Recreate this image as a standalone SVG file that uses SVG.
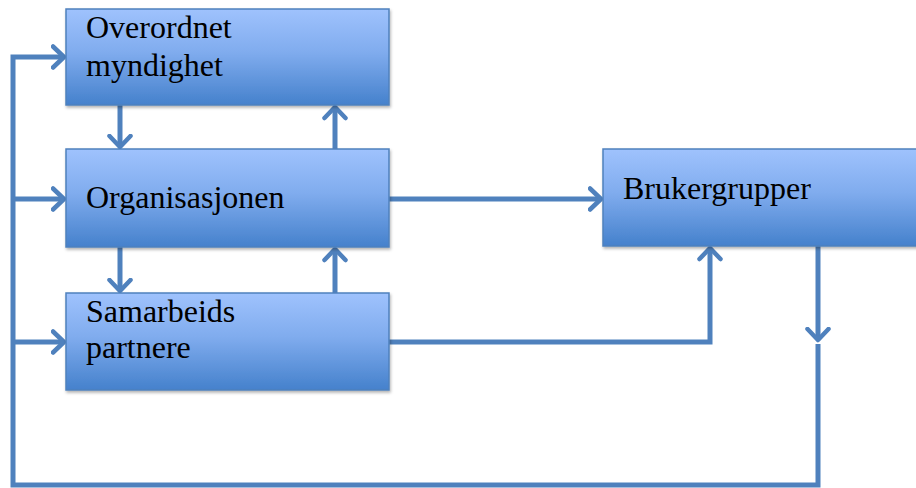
<svg xmlns="http://www.w3.org/2000/svg" width="916" height="488" viewBox="0 0 916 488">
<defs>
<linearGradient id="g" x1="0" y1="0" x2="0" y2="1">
<stop offset="0" stop-color="#9fc2fd"/>
<stop offset="0.45" stop-color="#80acee"/>
<stop offset="1" stop-color="#4581cc"/>
</linearGradient>
<filter id="sh" x="-5%" y="-5%" width="112%" height="120%">
<feDropShadow dx="1" dy="2" stdDeviation="1.5" flood-color="#000" flood-opacity="0.3"/>
</filter>
<marker id="ah" viewBox="0 0 16 26" refX="13.5" refY="13" markerWidth="16" markerHeight="26" markerUnits="userSpaceOnUse" orient="auto">
<path d="M2.5 2.5 L13.5 13 L2.5 23.5" fill="none" stroke="#4f81bd" stroke-width="4.5" stroke-linecap="round" stroke-linejoin="round"/>
</marker>
</defs>
<style>
.box{fill:url(#g);stroke:#4f81bd;stroke-width:1.5;filter:url(#sh)}
.t{font-family:"Liberation Serif","Times New Roman",serif;font-size:32px;fill:#000}
.c{fill:none;stroke:#4f81bd;stroke-width:5;stroke-linejoin:miter}
.a{marker-end:url(#ah)}
</style>
<g id="connectors">
<path class="c a" d="M120 105 V147"/>
<path class="c a" d="M335 149 V107"/>
<path class="c a" d="M120 247 V291"/>
<path class="c a" d="M335 293 V249"/>
<path class="c a" d="M389 199 H601"/>
<path class="c a" d="M389 342 H710 V248"/>
<path class="c a" d="M818 246 V340"/>
<path class="c a" d="M818 344 V485 H13 V57 H64"/>
<path class="c a" d="M13 199 H64"/>
<path class="c a" d="M13 342 H64"/>
</g>
<g id="overordnet">
<rect class="box" x="66" y="9" width="323" height="96"/>
<text class="t" x="86" y="38">Overordnet</text>
<text class="t" x="86" y="76">myndighet</text>
</g>
<g id="organisasjonen">
<rect class="box" x="66" y="149" width="323" height="98"/>
<text class="t" x="86" y="208">Organisasjonen</text>
</g>
<g id="samarbeids">
<rect class="box" x="66" y="293" width="323" height="97"/>
<text class="t" x="86" y="322">Samarbeids</text>
<text class="t" x="86" y="358">partnere</text>
</g>
<g id="brukergrupper">
<rect class="box" x="603" y="149" width="320" height="97"/>
<text class="t" x="623" y="199">Brukergrupper</text>
</g>
</svg>
